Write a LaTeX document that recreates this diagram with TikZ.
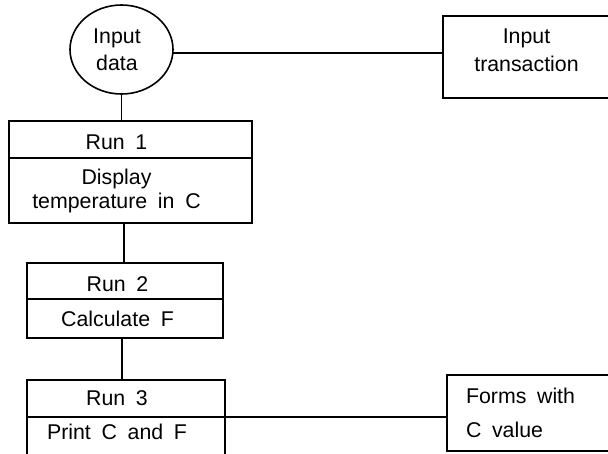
\documentclass[tikz,border=0pt]{standalone}
\usepackage{fontspec}
\setmainfont{Liberation Sans}
\usepackage{tikz}
\usetikzlibrary{positioning,shapes.geometric}
\newcommand{\diagfont}[1]{\fontsize{16}{#1}\selectfont}

\begin{document}
\begin{tikzpicture}[x=0.75pt, y=-0.75pt,
        line width=1.2pt, draw=black,
        every node/.style={font={\diagfont{20}}, outer sep=0pt,
            execute at begin node={\spaceskip 0.5em\relax}},
        frame/.style={draw, rectangle, inner sep=0pt, align=center},
        txt/.style={inner sep=0pt, align=center},
        headtxt/.style={txt, text height=15pt, text depth=0pt}]
        \pgfmathsetmacro{\sizeX}{608}
        \pgfmathsetmacro{\sizeY}{454}

        \useasboundingbox (0, 0) rectangle (\sizeX, \sizeY);
        \clip (0, 0) rectangle (\sizeX, \sizeY);

        \node[draw, ellipse, inner sep=0pt, minimum width=77.25pt, minimum height=66.75pt]
            (data) at (121.5, 49.5) {};
        \node[txt] (datatext) at ([xshift=-3.4pt]data.center) {Input\\data};
        \node[frame, anchor=north west, minimum width=125.25pt, minimum height=61.5pt,
            font={\diagfont{21}}] (trans) at (443, 16)
            {Input\\transaction\rule[-11pt]{0pt}{11pt}};

        \node[frame, anchor=north west, minimum width=182.25pt, minimum height=27.75pt]
            (run1) at (9, 121) {};
        \node[frame, below=0pt of run1, minimum width=182.25pt, minimum height=48.75pt]
            (disp) {};
        \node[headtxt] (run1text) at ([xshift=-10.5pt]run1.center) {Run 1};
        \node[txt, font={\diagfont{18}}] (disptext) at ([xshift=-10.5pt]disp.center)
            {Display\\temperature in C};

        \node[frame, anchor=north west, minimum width=147pt, minimum height=27pt]
            (run2) at (27, 263) {};
        \node[frame, below=0pt of run2, minimum width=147pt, minimum height=29.25pt]
            (calc) {};
        \node[headtxt] (run2text) at ([xshift=-5.6pt]run2.center) {Run 2};
        \node[txt] (calctext) at ([xshift=-5.6pt]calc.center) {Calculate F};

        \node[frame, anchor=north west, minimum width=148.5pt, minimum height=27.75pt]
            (run3) at (27, 380) {};
        \node[frame, below=0pt of run3, minimum width=148.5pt, minimum height=50pt]
            (print) {};
        \node[headtxt, text height=11pt] (run3text) at ([xshift=-6.75pt]run3.center) {Run 3};
        \node[txt, anchor=base] (printtext) at ([xshift=-6.75pt, yshift=-17pt]print.north)
            {Print C and F};

        \node[draw, rectangle, anchor=north west, inner xsep=14.25pt, inner ysep=0pt,
            text width=94pt, minimum height=57pt, align=left, font={\diagfont{26}}]
            (forms) at (447, 375) {Forms with\\C value};

        \draw (data.-4) -- (data.-4 -| trans.west);
        \draw (data.south) -- (data.south |- run1.north);
        \draw ([xshift=-5pt]disp.south) coordinate (d1) -- (d1 |- run2.north);
        \draw ([xshift=-2.25pt]calc.south) coordinate (c1) -- (c1 |- run3.north);
        \draw (run3.south east) -- (run3.south east -| forms.west);
\end{tikzpicture}
\end{document}
